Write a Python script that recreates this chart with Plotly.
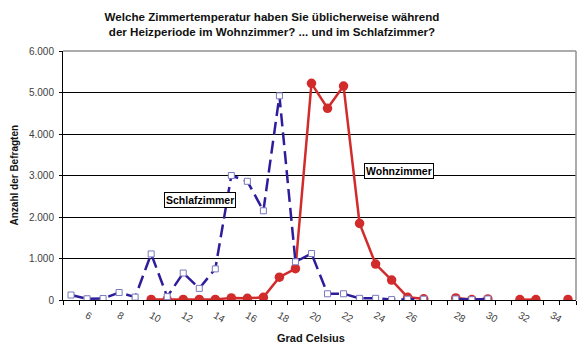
import plotly.graph_objects as go

# Categories (temperature in °C); one empty category between 27 and 28
categories = ["5", "6", "7", "8", "9", "10", "11", "12", "13", "14", "15", "16",
              "17", "18", "19", "20", "21", "22", "23", "24", "25", "26", "27",
              " ", "28", "29", "30", "31", "32", "33", "34", "35"]

tick_labels = ["", "6", "", "8", "", "10", "", "12", "", "14", "", "16",
               "", "18", "", "20", "", "22", "", "24", "", "26", "",
               "", "28", "", "30", "", "32", "", "34", ""]

schlafzimmer = [120, 30, 35, 180, 70, 1110, 80, 650, 280, 750, 3000, 2860,
                2150, 4920, 920, 1120, 150, 150, 40, 40, 10, 20, 20,
                None, 25, 8, 25, None, None, None, None, None]

wohnzimmer = [None, None, None, None, None, 15, 10, 15, 15, 15, 50, 40,
              65, 550, 755, 5220, 4620, 5155, 1845, 865, 480, 65, 30,
              None, 50, 10, 25, None, 10, 10, None, 15]

y_ticks = [0, 1000, 2000, 3000, 4000, 5000, 6000]

FONT = "Arial, Liberation Sans, sans-serif"

fig = go.Figure()

fig.add_trace(go.Scatter(
    x=categories, y=wohnzimmer, mode="lines+markers", name="Wohnzimmer",
    line=dict(color="#d22b2b", width=2.5),
    marker=dict(symbol="circle", size=9.5, color="#d22b2b"),
    connectgaps=False, showlegend=False,
))

fig.add_trace(go.Scatter(
    x=categories, y=schlafzimmer, mode="lines+markers", name="Schlafzimmer",
    line=dict(color="#2e1d9a", width=2.5, dash="13px,6px"),
    marker=dict(symbol="square", size=6, color="white",
                line=dict(color="#7878c0", width=1)),
    connectgaps=False, showlegend=False,
))

fig.update_layout(
    width=582, height=351,
    margin=dict(l=63, r=6, t=51, b=51),
    paper_bgcolor="white", plot_bgcolor="white",
    separators=",.",
    font=dict(family=FONT, size=10, color="#404040"),
    title=dict(
        text="<b>Welche Zimmertemperatur haben Sie üblicherweise während<br>"
             "der Heizperiode im Wohnzimmer? ... und im Schlafzimmer?</b>",
        x=272 / 582, xanchor="center", xref="container",
        y=1 - 21 / 351, yanchor="middle", yref="container",
        font=dict(family=FONT, size=11.6, color="#111111"),
    ),
    xaxis=dict(
        type="category", categoryorder="array", categoryarray=categories,
        tickmode="array", tickvals=categories, ticktext=tick_labels,
        tickson="boundaries", ticks="outside", ticklen=4, tickcolor="black",
        ticklabelstandoff=5,
        tickfont=dict(family=FONT, size=10, color="#404040"),
        showline=True, linecolor="black", linewidth=1,
        showgrid=False, zeroline=False,
        range=[-0.5, len(categories) - 0.5],
    ),
    yaxis=dict(
        range=[0, 6000], tickmode="array", tickvals=y_ticks,
        tickformat=",d", ticks="outside", ticklen=3, tickcolor="black",
        ticklabelstandoff=3,
        tickfont=dict(family=FONT, size=10, color="#404040"),
        showline=True, linecolor="black", linewidth=1,
        showgrid=True, gridcolor="black", gridwidth=1, zeroline=False,
    ),
    shapes=[
        dict(type="line", xref="paper", yref="paper", x0=0, x1=1, y0=1, y1=1,
             line=dict(color="#909090", width=1.5), layer="above"),
        dict(type="line", xref="paper", yref="paper", x0=1, x1=1, y0=0, y1=1,
             line=dict(color="#909090", width=1.5), layer="above"),
    ],
    annotations=[
        dict(text="<b>Schlafzimmer</b>", xref="paper", yref="paper",
             x=137 / 513, y=100 / 249, xanchor="center", yanchor="middle",
             showarrow=False,
             font=dict(family=FONT, size=10.5, color="black"),
             bgcolor="white", bordercolor="black", borderwidth=1, borderpad=1),
        dict(text="<b>Wohnzimmer</b>", xref="paper", yref="paper",
             x=335.5 / 513, y=129.5 / 249, xanchor="center", yanchor="middle",
             showarrow=False,
             font=dict(family=FONT, size=10.5, color="black"),
             bgcolor="white", bordercolor="black", borderwidth=1, borderpad=1),
        dict(text="<b>Grad Celsius</b>", xref="paper", yref="paper",
             x=(311 - 63) / 513, y=-(338 - 300) / 249, xanchor="center",
             yanchor="middle", showarrow=False,
             font=dict(family=FONT, size=11, color="#111111")),
        dict(text="<b>Anzahl der Befragten</b>", xref="paper", yref="paper",
             x=-(63 - 14) / 513, y=0.5, xanchor="center", yanchor="middle",
             textangle=-90, showarrow=False,
             font=dict(family=FONT, size=10, color="#111111")),
    ],
)

fig.write_html("out.html")
